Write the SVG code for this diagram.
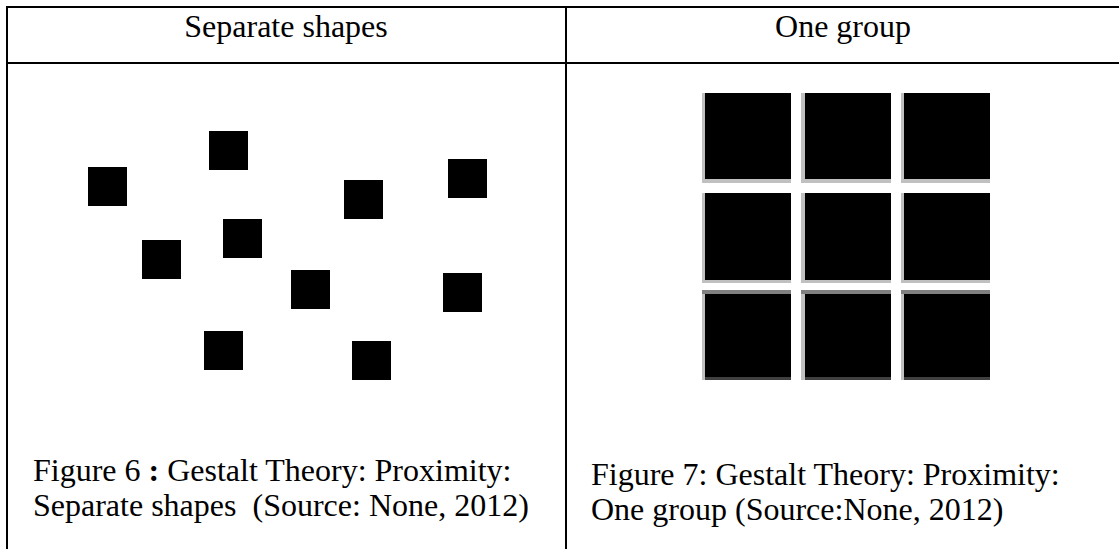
<svg xmlns="http://www.w3.org/2000/svg" width="1119" height="549" viewBox="0 0 1119 549">
  <style>
    .txt { font-family: "Liberation Serif", "Times New Roman", serif; font-size: 32px; fill: #000; }
    .sq { fill: #000; }
    .lg { fill: #c0c0c0; }
    .mg { fill: #808080; }
    .dg { fill: #404040; }
    .rule { fill: #000; }
  </style>
  <rect x="0" y="0" width="1119" height="549" fill="#fff"/>

  <g id="table">
    <rect class="rule" x="6" y="6" width="1113" height="2"/>
    <rect class="rule" x="6" y="62" width="1113" height="2"/>
    <rect class="rule" x="6" y="6" width="2" height="543"/>
    <rect class="rule" x="565" y="6" width="2" height="543"/>
  </g>

  <g id="header-left">
    <text class="txt" x="286" y="37" text-anchor="middle">Separate shapes</text>
  </g>
  <g id="header-right">
    <text class="txt" x="843" y="37" text-anchor="middle">One group</text>
  </g>

  <g id="separate-shapes">
    <rect class="sq" x="209" y="131" width="39" height="39"/>
    <rect class="sq" x="88" y="167" width="39" height="39"/>
    <rect class="sq" x="344" y="180" width="39" height="39"/>
    <rect class="sq" x="448" y="159" width="39" height="39"/>
    <rect class="sq" x="223" y="219" width="39" height="39"/>
    <rect class="sq" x="142" y="240" width="39" height="39"/>
    <rect class="sq" x="291" y="270" width="39" height="39"/>
    <rect class="sq" x="443" y="273" width="39" height="39"/>
    <rect class="sq" x="204" y="331" width="39" height="39"/>
    <rect class="sq" x="352" y="341" width="39" height="39"/>
  </g>

  <g id="one-group">
    <g id="r1">
      <rect class="lg" x="702" y="93" width="3" height="90"/>
      <rect class="lg" x="705" y="179" width="86" height="4"/>
      <rect class="sq" x="705" y="93" width="86" height="86"/>
      <rect class="lg" x="801" y="93" width="4" height="90"/>
      <rect class="lg" x="805" y="179" width="86" height="4"/>
      <rect class="sq" x="805" y="93" width="86" height="86"/>
      <rect class="lg" x="901" y="93" width="3" height="90"/>
      <rect class="lg" x="904" y="179" width="86" height="4"/>
      <rect class="sq" x="904" y="93" width="86" height="86"/>
    </g>
    <g id="r2">
      <rect class="lg" x="702" y="193" width="3" height="90"/>
      <rect class="lg" x="705" y="280" width="86" height="3"/>
      <rect class="sq" x="705" y="193" width="86" height="87"/>
      <rect class="lg" x="801" y="193" width="4" height="90"/>
      <rect class="lg" x="805" y="280" width="86" height="3"/>
      <rect class="sq" x="805" y="193" width="86" height="87"/>
      <rect class="lg" x="901" y="193" width="3" height="90"/>
      <rect class="lg" x="904" y="280" width="86" height="3"/>
      <rect class="sq" x="904" y="193" width="86" height="87"/>
    </g>
    <g id="r3">
      <rect class="mg" x="702" y="290" width="89" height="4"/>
      <rect class="lg" x="702" y="294" width="3" height="86"/>
      <rect class="dg" x="705" y="377" width="86" height="3"/>
      <rect class="sq" x="705" y="294" width="86" height="83"/>
      <rect class="mg" x="801" y="290" width="90" height="4"/>
      <rect class="lg" x="801" y="294" width="4" height="86"/>
      <rect class="dg" x="805" y="377" width="86" height="3"/>
      <rect class="sq" x="805" y="294" width="86" height="83"/>
      <rect class="mg" x="901" y="290" width="89" height="4"/>
      <rect class="lg" x="901" y="294" width="3" height="86"/>
      <rect class="dg" x="904" y="377" width="86" height="3"/>
      <rect class="sq" x="904" y="294" width="86" height="83"/>
    </g>
  </g>

  <g id="caption-left">
    <text class="txt" x="33" y="481">Figure 6 <tspan font-weight="bold">:</tspan> Gestalt Theory: Proximity:</text>
    <text class="txt" x="33" y="516" xml:space="preserve">Separate shapes  (Source: None, 2012)</text>
  </g>
  <g id="caption-right">
    <text class="txt" x="591" y="485">Figure 7: Gestalt Theory: Proximity:</text>
    <text class="txt" x="591" y="520">One group (Source:None, 2012)</text>
  </g>
</svg>
